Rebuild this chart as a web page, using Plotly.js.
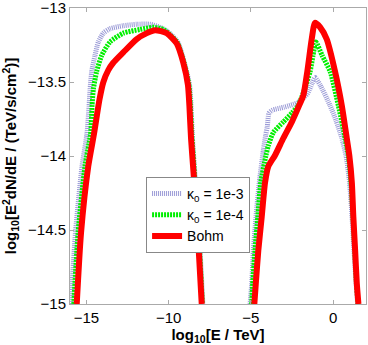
<!DOCTYPE html>
<html>
<head>
<meta charset="utf-8">
<script src="https://cdn.plot.ly/plotly-3.0.1.min.js"></script>
<style>html,body{margin:0;padding:0;background:#fff;}#chart{width:368px;height:345px;}</style>
</head>
<body>
<div id="chart"></div>
<script>
// Series names
const seriesNames = ["κ<sub>0</sub> = 1e-3", "κ<sub>0</sub> = 1e-4", "Bohm"];

// κ0 = 1e-3 : low-energy hump
const k3LowX = [-15.94, -15.67, -15.27, -14.97, -14.84, -14.78, -14.68, -14.48, -14.28, -13.97, -13.57, -12.76, -11.94, -11.13, -10.53, -10.05, -9.44, -9.04, -8.73, -8.64, -8.55, -8.41, -8.13, -7.92];
const k3LowY = [-15.0, -14.52, -14.07, -13.85, -13.66, -13.55, -13.43, -13.32, -13.23, -13.17, -13.14, -13.12, -13.11, -13.11, -13.13, -13.16, -13.23, -13.37, -13.52, -13.66, -13.88, -14.11, -14.56, -15.0];
// κ0 = 1e-3 : high-energy hump
const k3HighX = [-5.05, -4.95, -4.85, -4.69, -4.49, -4.24, -4.10, -4.00, -3.90, -3.69, -2.98, -2.17, -1.57, -1.28, -1.10, -0.79, -0.18, 0.18, 0.53, 0.79, 1.00, 1.15, 1.27, 1.40, 1.49];
const k3HighY = [-15.0, -14.86, -14.64, -14.41, -14.18, -13.96, -13.86, -13.80, -13.71, -13.69, -13.67, -13.64, -13.58, -13.51, -13.47, -13.52, -13.66, -13.76, -13.88, -14.0, -14.18, -14.41, -14.64, -14.86, -15.0];

// κ0 = 1e-4 : low-energy hump
const k4LowX = [-15.77, -15.51, -15.09, -14.75, -14.66, -14.58, -14.38, -14.07, -13.57, -12.76, -11.74, -10.93, -10.33, -10.08, -9.47, -9.07, -8.77, -8.68, -8.58, -8.44, -8.16, -7.95];
const k4LowY = [-15.0, -14.52, -14.07, -13.85, -13.66, -13.55, -13.43, -13.32, -13.23, -13.17, -13.145, -13.13, -13.145, -13.165, -13.235, -13.37, -13.52, -13.66, -13.88, -14.11, -14.56, -15.0];
// κ0 = 1e-4 : high-energy hump
const k4HighX = [-4.95, -4.89, -4.75, -4.58, -4.40, -4.09, -3.94, -3.63, -3.03, -2.51, -2.13, -1.77, -1.40, -1.22, -1.05, -0.67, -0.18, 0.32, 0.73, 0.93, 1.09, 1.21, 1.32, 1.42, 1.52];
const k4HighY = [-15.0, -14.86, -14.64, -14.41, -14.18, -14.0, -13.93, -13.84, -13.77, -13.71, -13.66, -13.56, -13.43, -13.32, -13.23, -13.32, -13.43, -13.66, -13.88, -14.0, -14.18, -14.41, -14.64, -14.86, -15.0];

// Bohm : low-energy hump
const bohmLowX = [-15.59, -15.33, -14.89, -14.54, -14.21, -13.97, -13.67, -13.37, -12.76, -11.94, -11.33, -10.83, -10.12, -9.51, -9.11, -8.83, -8.74, -8.64, -8.49, -8.21, -7.99];
const bohmLowY = [-15.0, -14.52, -14.07, -13.85, -13.62, -13.50, -13.42, -13.37, -13.30, -13.21, -13.17, -13.15, -13.17, -13.24, -13.37, -13.52, -13.66, -13.88, -14.11, -14.56, -15.0];
// Bohm : high-energy hump
const bohmHighX = [-4.79, -4.70, -4.55, -4.34, -4.14, -3.94, -3.53, -3.03, -2.51, -2.07, -1.81, -1.57, -1.30, -1.10, -0.79, -0.39, 0.12, 0.53, 0.83, 0.99, 1.14, 1.23, 1.34, 1.44, 1.54];
const bohmHighY = [-15.0, -14.86, -14.64, -14.41, -14.18, -14.07, -13.995, -13.88, -13.77, -13.66, -13.59, -13.43, -13.21, -13.10, -13.13, -13.21, -13.43, -13.66, -13.88, -14.0, -14.18, -14.41, -14.64, -14.86, -15.0];

const xTicks = [-15, -10, -5, 0];
const yTicks = [-15, -14.5, -14, -13.5, -13];

function join(a, b) { return a.concat([null], b); }

const font = "Liberation Sans, Arial, sans-serif";

const traces = [
  {x: join(k3LowX, k3HighX), y: join(k3LowY, k3HighY), name: seriesNames[0], mode: "lines",
   line: {color: "rgba(120,120,200,0.75)", width: 5, dash: "1px,1px", shape: "spline", smoothing: 0.6}, connectgaps: false},
  {x: join(k4LowX, k4HighX), y: join(k4LowY, k4HighY), name: seriesNames[1], mode: "lines",
   line: {color: "#00ee00", width: 5, dash: "2px,1px", shape: "spline", smoothing: 0.6}, connectgaps: false},
  {x: join(bohmLowX, bohmHighX), y: join(bohmLowY, bohmHighY), name: seriesNames[2], mode: "lines",
   line: {color: "#ff0000", width: 6, shape: "spline", smoothing: 0.6}, connectgaps: false}
];

const axisCommon = {
  showgrid: false, zeroline: false, showline: true, linecolor: "#aaaaaa", linewidth: 1,
  mirror: "allticks", ticks: "inside", ticklen: 4, tickcolor: "#aaaaaa",
  tickmode: "array", ticklabeloverflow: "allow",
  tickfont: {family: font, size: 15, color: "#000"}
};

const layout = {
  width: 368, height: 345,
  margin: {l: 70, r: 2, t: 8, b: 41},
  paper_bgcolor: "#fff", plot_bgcolor: "#fff",
  showlegend: true,
  xaxis: Object.assign({}, axisCommon, {
    range: [-16, 2], tickvals: xTicks,
    title: {text: "<b>log<sub>10</sub>[E / TeV]</b>", font: {family: font, size: 15, color: "#000"}, standoff: 2}
  }),
  yaxis: Object.assign({}, axisCommon, {
    range: [-15, -13], tickvals: yTicks,
    title: {text: "<b>log<sub>10</sub>[E<sup>2</sup>dN/dE / (TeV/s/cm<sup>2</sup>)]</b>", font: {family: font, size: 15, color: "#000"}, standoff: 8}
  }),
  legend: {
    x: 0.257, y: 0.429, xanchor: "left", yanchor: "top",
    bgcolor: "#fff", bordercolor: "#888", borderwidth: 1,
    font: {family: font, size: 14, color: "#000"},
    tracegroupgap: 0
  }
};

Plotly.newPlot("chart", traces, layout, {displayModeBar: false, staticPlot: true});
</script>
</body>
</html>
